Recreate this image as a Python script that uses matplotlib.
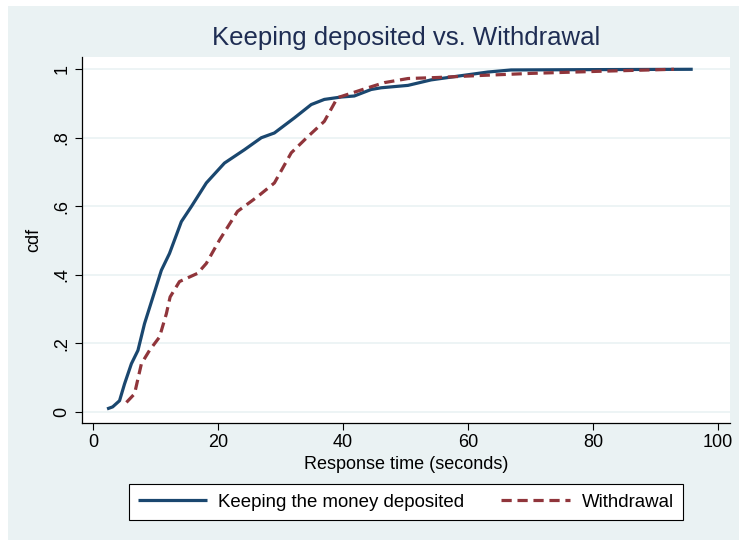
import matplotlib
matplotlib.use("Agg")
import matplotlib.pyplot as plt
from matplotlib.patches import Rectangle

plt.rcParams['font.family'] = ['Liberation Sans', 'DejaVu Sans']

# Data
keep_x = [2.2, 3.1, 4.2, 5.0, 6.1, 7.15, 8.2, 9.55, 10.9, 12.2, 14.1, 15.7, 18.1,
          21.0, 24.2, 26.9, 29.0, 32.2, 34.9, 37.0, 39.7, 41.8, 44.5, 46.1, 50.4,
          54.1, 58.4, 63.2, 66.9, 80.0, 96.0]
keep_y = [0.008, 0.014, 0.032, 0.081, 0.14, 0.179, 0.257, 0.335, 0.413, 0.462, 0.555,
          0.599, 0.668, 0.726, 0.765, 0.80, 0.814, 0.858, 0.897, 0.912, 0.919, 0.922,
          0.941, 0.946, 0.953, 0.969, 0.980, 0.992, 0.998, 0.999, 1.0]

wd_x = [5.3, 6.6, 7.7, 9.0, 10.6, 11.7, 12.3, 13.8, 16.7, 18.1, 20.2, 23.1, 26.3,
        29.0, 31.7, 34.4, 37.0, 39.1, 42.3, 44.5, 46.6, 50.4, 55.1, 62.1, 70.1,
        80.8, 93.0]
wd_y = [0.027, 0.052, 0.14, 0.179, 0.218, 0.286, 0.335, 0.38, 0.404, 0.433, 0.501,
        0.585, 0.628, 0.668, 0.756, 0.804, 0.848, 0.917, 0.936, 0.949, 0.961, 0.973,
        0.976, 0.982, 0.988, 0.994, 1.0]

x_ticks = [0, 20, 40, 60, 80, 100]
y_ticks = [0, 0.2, 0.4, 0.6, 0.8, 1.0]
y_tick_labels = ['0', '.2', '.4', '.6', '.8', '1']

title = 'Keeping deposited vs. Withdrawal'
series_labels = ['Keeping the money deposited', 'Withdrawal']

W, H = 739, 540
fig = plt.figure(figsize=(W / 100, H / 100), dpi=100, facecolor='#EAF2F3')

# white margins at left/top edges
fig.patches.append(Rectangle((0, 0), 8 / W, 1, transform=fig.transFigure,
                             facecolor='white', edgecolor='none', zorder=-1))
fig.patches.append(Rectangle((0, 1 - 6 / H), 1, 6 / H, transform=fig.transFigure,
                             facecolor='white', edgecolor='none', zorder=-1))

left, right, top, bottom = 81.7, 730, 57.3, 423.3
ax = fig.add_axes([left / W, 1 - bottom / H, (right - left) / W, (bottom - top) / H])
ax.set_facecolor('white')

navy = '#1A476F'
maroon = '#90353B'

l1, = ax.plot(keep_x, keep_y, color=navy, lw=2.3, solid_capstyle='butt',
              label=series_labels[0], zorder=3)
l2, = ax.plot(wd_x, wd_y, color=maroon, lw=2.3, dashes=(3.2, 1.8),
              label=series_labels[1], zorder=4)

ax.set_xlim(-1.86, 101.97)
ax.set_ylim(-0.034, 1.035)
ax.set_xticks(x_ticks)
ax.set_yticks(y_ticks)
ax.set_yticklabels(y_tick_labels, rotation=90, va='center')
ax.tick_params(axis='both', direction='out', length=5, width=0.8, colors='black',
               labelsize=13, pad=3)
ax.grid(axis='y', color='#EAF2F3', lw=1.2, zorder=0)
ax.set_axisbelow(True)
for s in ['top', 'right']:
    ax.spines[s].set_visible(False)
for s in ['left', 'bottom']:
    ax.spines[s].set_color('black')
    ax.spines[s].set_linewidth(0.9)

ax.set_xlabel('Response time (seconds)', fontsize=13, labelpad=3)
ax.set_ylabel('cdf', fontsize=13, labelpad=8)

fig.text((left + right) / 2 / W, 1 - 38 / H, title, ha='center', va='center',
         fontsize=18.5, color='#1E2D53')

leg = fig.legend(handles=[l1, l2], loc='center', ncol=2,
                 bbox_to_anchor=((left + right) / 2 / W, 1 - 502 / H),
                 frameon=True, fancybox=False, edgecolor='black', facecolor='white',
                 fontsize=13.4, handlelength=3.7, columnspacing=2.0, borderpad=0.5,
                 handletextpad=0.6)
leg.get_frame().set_linewidth(0.8)
leg.get_frame().set_alpha(1)

fig.savefig('out.png', dpi=100, facecolor=fig.get_facecolor())
